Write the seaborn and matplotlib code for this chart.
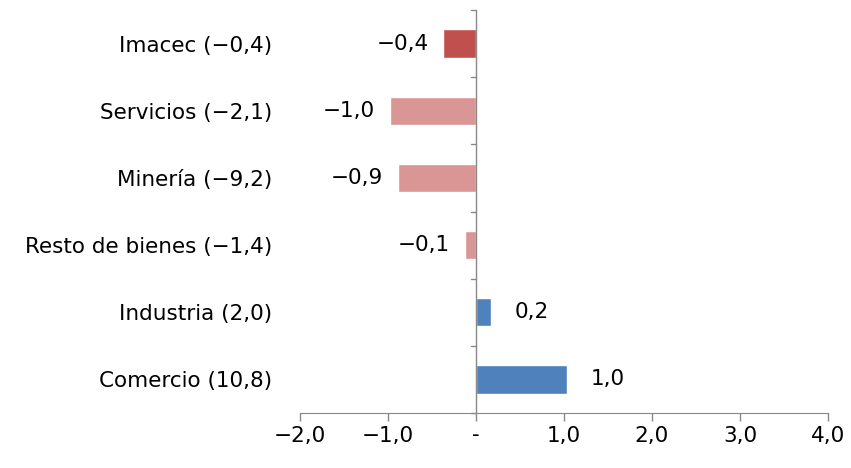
import matplotlib
matplotlib.use("Agg")
import matplotlib.pyplot as plt
import seaborn as sns
import pandas as pd

categories = ["Imacec (\u22120,4)", "Servicios (\u22122,1)", "Minería (\u22129,2)",
              "Resto de bienes (\u22121,4)", "Industria (2,0)", "Comercio (10,8)"]
values = [-0.37, -0.98, -0.89, -0.13, 0.17, 1.03]
labels = ["\u22120,4", "\u22121,0", "\u22120,9", "\u22120,1", "0,2", "1,0"]
colors = ["#C0504D", "#D99694", "#D99694", "#D99694", "#4F81BD", "#4F81BD"]
xticks = [-2, -1, 0, 1, 2, 3, 4]
xticklabels = ["\u22122,0", "\u22121,0", "-", "1,0", "2,0", "3,0", "4,0"]

df = pd.DataFrame({"cat": categories, "val": values})

sns.set_style("white")
plt.rcParams["font.family"] = ["DejaVu Sans"]
plt.rcParams["text.color"] = "black"
plt.rcParams["xtick.color"] = "black"
plt.rcParams["ytick.color"] = "black"
FS = 15.5

fig = plt.figure(figsize=(8.51, 4.68), dpi=100)
ax = fig.add_axes([300 / 851, 55 / 468, 528 / 851, 403 / 468])
sns.barplot(data=df, x="val", y="cat", hue="cat", palette=colors, legend=False,
            width=0.42, saturation=1, ax=ax, orient="h")

ax.set_xlim(-2, 4)
ax.set_ylim(5.5, -0.5)
ax.set_xticks(xticks)
ax.set_xticklabels(xticklabels, fontsize=FS)
ax.set_yticks(range(len(categories)))
ax.set_yticklabels(categories, fontsize=FS)
ax.tick_params(axis="y", length=0, pad=20)
ax.tick_params(axis="x", length=6, width=1, color="#888888", labelcolor="black",
               direction="out", bottom=True, pad=3)
ax.set_xlabel("")
ax.set_ylabel("")
for s in ["top", "right", "left"]:
    ax.spines[s].set_visible(False)
ax.spines["bottom"].set_color("#888888")

# vertical axis at zero with category separator ticks
ax.axvline(0, color="#888888", lw=1)
for b in [i - 0.5 for i in range(len(categories) + 1)]:
    ax.plot([-0.06, 0], [b, b], color="#888888", lw=1, clip_on=False)

for i, (v, t) in enumerate(zip(values, labels)):
    if v < 0:
        ax.text(v - 0.17, i, t, ha="right", va="center", fontsize=FS)
    else:
        ax.text(v + 0.27, i, t, ha="left", va="center", fontsize=FS)

fig.savefig("out.png", dpi=100)
